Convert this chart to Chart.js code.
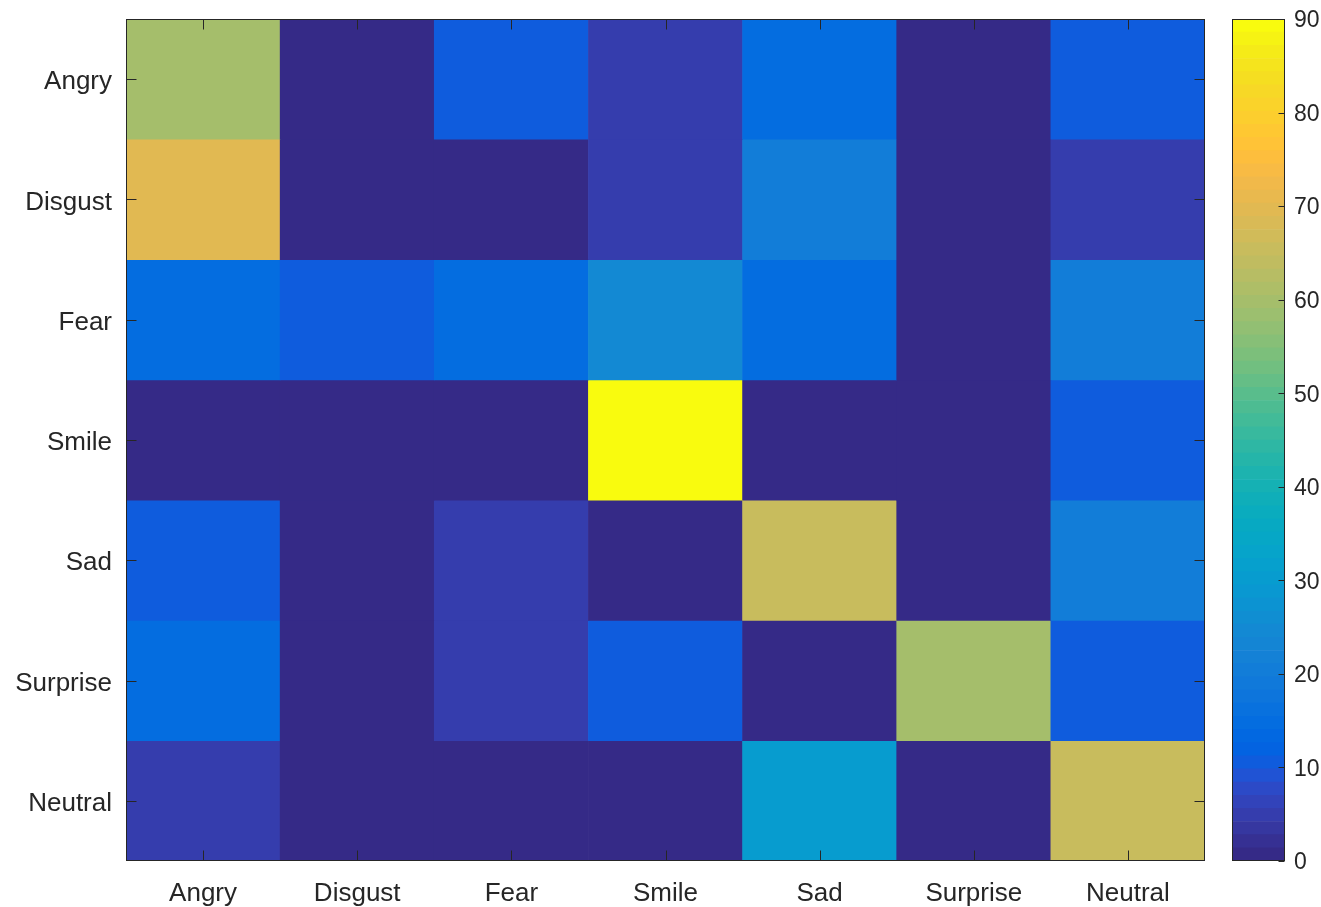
<!DOCTYPE html>
<html>
<head>
<meta charset="utf-8">
<title>Confusion matrix</title>
<script src="https://cdn.jsdelivr.net/npm/chart.js@4.4.1/dist/chart.umd.min.js"></script>
<style>
  html, body { margin: 0; padding: 0; background: #ffffff; }
  #wrap { position: relative; width: 1321px; height: 907px; overflow: hidden; }
  #matrix { position: absolute; left: 0; top: 0; }
  #cbar { position: absolute; left: 1220px; top: 0; }
</style>
</head>
<body>
<div id="wrap">
  <canvas id="matrix" width="1220" height="907"></canvas>
  <canvas id="cbar" width="101" height="907"></canvas>
</div>
<script>
// Class names: rows are the true class, columns the predicted class
const rowLabels = ['Angry', 'Disgust', 'Fear', 'Smile', 'Sad', 'Surprise', 'Neutral'];
const colLabels = ['Angry', 'Disgust', 'Fear', 'Smile', 'Sad', 'Surprise', 'Neutral'];

// Recognition rates (%) per true class
const angryRow    = [60, 0, 10, 5, 15, 0, 10];
const disgustRow  = [70, 0, 0, 5, 20, 0, 5];
const fearRow     = [15, 10, 15, 25, 15, 0, 20];
const smileRow    = [0, 0, 0, 90, 0, 0, 10];
const sadRow      = [10, 0, 5, 0, 65, 0, 20];
const surpriseRow = [15, 0, 5, 10, 0, 60, 10];
const neutralRow  = [5, 0, 0, 0, 30, 0, 65];
const matrixRows = [angryRow, disgustRow, fearRow, smileRow, sadRow, surpriseRow, neutralRow];

// Colour limits and colour bar tick labels
const colorMin = 0;
const colorMax = 90;
const colorbarTicks = [0, 10, 20, 30, 40, 50, 60, 70, 80, 90];

// parula, 64 levels
const parula = [
  [0.2081,0.1663,0.5292],[0.2116,0.1898,0.5777],[0.2123,0.2138,0.6270],[0.2081,0.2386,0.6771],
  [0.1959,0.2645,0.7279],[0.1707,0.2919,0.7792],[0.1253,0.3242,0.8303],[0.0591,0.3598,0.8683],
  [0.0117,0.3875,0.8820],[0.0060,0.4086,0.8828],[0.0165,0.4266,0.8786],[0.0329,0.4430,0.8720],
  [0.0498,0.4586,0.8641],[0.0629,0.4737,0.8554],[0.0723,0.4887,0.8467],[0.0779,0.5040,0.8384],
  [0.0793,0.5200,0.8312],[0.0749,0.5375,0.8263],[0.0641,0.5570,0.8240],[0.0488,0.5772,0.8228],
  [0.0343,0.5966,0.8199],[0.0265,0.6137,0.8135],[0.0239,0.6287,0.8038],[0.0231,0.6418,0.7913],
  [0.0228,0.6535,0.7768],[0.0267,0.6642,0.7607],[0.0384,0.6743,0.7436],[0.0590,0.6838,0.7254],
  [0.0843,0.6928,0.7062],[0.1133,0.7015,0.6859],[0.1453,0.7098,0.6646],[0.1801,0.7177,0.6424],
  [0.2178,0.7250,0.6193],[0.2586,0.7317,0.5954],[0.3022,0.7376,0.5712],[0.3482,0.7424,0.5473],
  [0.3953,0.7459,0.5244],[0.4420,0.7481,0.5033],[0.4871,0.7491,0.4840],[0.5300,0.7491,0.4661],
  [0.5709,0.7485,0.4494],[0.6099,0.7473,0.4337],[0.6473,0.7456,0.4188],[0.6834,0.7435,0.4044],
  [0.7184,0.7411,0.3905],[0.7525,0.7384,0.3768],[0.7858,0.7356,0.3633],[0.8185,0.7327,0.3498],
  [0.8507,0.7299,0.3360],[0.8824,0.7274,0.3217],[0.9139,0.7258,0.3063],[0.9450,0.7261,0.2886],
  [0.9739,0.7314,0.2666],[0.9938,0.7455,0.2403],[0.9990,0.7653,0.2164],[0.9955,0.7861,0.1967],
  [0.9880,0.8066,0.1794],[0.9789,0.8271,0.1633],[0.9697,0.8481,0.1475],[0.9626,0.8705,0.1309],
  [0.9589,0.8949,0.1132],[0.9598,0.9218,0.0948],[0.9661,0.9514,0.0755],[0.9763,0.9831,0.0538]
];

const toCss = c => 'rgb(' + c.map(v => Math.round(v * 255)).join(',') + ')';

// Scaled colour lookup: value -> colormap entry
function colorFor(v) {
  const m = parula.length;
  let idx = Math.floor((v - colorMin) / (colorMax - colorMin) * m);
  idx = Math.max(0, Math.min(m - 1, idx));
  return toCss(parula[idx]);
}

const FONT = '"Liberation Sans", Arial, Helvetica, sans-serif';
const AXIS_COLOR = '#262626';

// Draws the axes box and the inward tick marks on the requested sides
const boxTicks = {
  id: 'boxTicks',
  afterDraw(chart, args, opts) {
    const { ctx, chartArea: a, scales } = chart;
    const L = Math.round(a.left) + 0.5, R = Math.round(a.right) - 0.5;
    const T = Math.round(a.top) + 0.5, B = Math.round(a.bottom) - 0.5;
    const len = opts.length;
    ctx.save();
    ctx.strokeStyle = opts.color;
    ctx.lineWidth = 1;
    ctx.beginPath();
    const sides = opts.sides;
    if (sides.includes('bottom') || sides.includes('top')) {
      const xs = scales.x;
      xs.ticks.forEach((t, i) => {
        const px = Math.round(xs.getPixelForTick(i)) + 0.5;
        if (sides.includes('bottom')) { ctx.moveTo(px, B); ctx.lineTo(px, B - len); }
        if (sides.includes('top')) { ctx.moveTo(px, T); ctx.lineTo(px, T + len); }
      });
    }
    if (sides.includes('left') || sides.includes('right')) {
      const ys = scales.y;
      ys.ticks.forEach((t, i) => {
        const py = Math.round(ys.getPixelForTick(i)) + 0.5;
        if (sides.includes('left')) { ctx.moveTo(L, py); ctx.lineTo(L + len, py); }
        if (sides.includes('right')) { ctx.moveTo(R, py); ctx.lineTo(R - len, py); }
      });
    }
    ctx.stroke();
    ctx.strokeStyle = opts.frameColor;
    ctx.strokeRect(L, T, R - L, B - T);
    ctx.restore();
  }
};

// Keeps label overhang from pushing the plot area inward
function noOverhang(scale) {
  scale.paddingTop = 0;
  scale.paddingBottom = 0;
  scale.paddingLeft = 0;
  scale.paddingRight = 0;
}

// Nudges a scale's tick labels vertically so the glyphs sit centred on their ticks
function nudgeLabels(scale, dy) {
  if (scale.$nudged) return;
  const drawLabels = scale.drawLabels;
  scale.drawLabels = function (area) {
    this.ctx.save();
    this.ctx.translate(0, dy);
    drawLabels.call(this, area);
    this.ctx.restore();
  };
  scale.$nudged = true;
}

// One stacked dataset per true class; each bar segment is one matrix cell of height 1
const matrixDatasets = matrixRows.map((row, r) => ({
  label: rowLabels[r],
  data: row.map(() => 1),
  backgroundColor: row.map(v => colorFor(v)),
  borderWidth: 0,
  barPercentage: 1.0,
  categoryPercentage: 1.0
}));

new Chart(document.getElementById('matrix'), {
  type: 'bar',
  data: { labels: colLabels, datasets: matrixDatasets },
  plugins: [boxTicks],
  options: {
    responsive: false,
    animation: false,
    devicePixelRatio: 1,
    layout: { padding: { top: 19, right: 15, bottom: 0, left: 0 } },
    plugins: {
      legend: { display: false },
      tooltip: { enabled: false },
      boxTicks: { sides: ['bottom', 'top', 'left', 'right'], length: 10, color: AXIS_COLOR, frameColor: AXIS_COLOR }
    },
    scales: {
      x: {
        stacked: true,
        grid: { display: false, drawTicks: false },
        border: { display: false },
        ticks: {
          color: AXIS_COLOR,
          font: { family: FONT, size: 26 },
          padding: 17,
          maxRotation: 0,
          autoSkip: false
        },
        afterFit(scale) { scale.height = 46; noOverhang(scale); }
      },
      y: {
        stacked: true,
        reverse: true,
        min: 0,
        max: rowLabels.length,
        grid: { display: false, drawTicks: false },
        border: { display: false },
        afterBuildTicks(scale) {
          scale.ticks = rowLabels.map((_, i) => ({ value: i + 0.5 }));
        },
        ticks: {
          color: AXIS_COLOR,
          font: { family: FONT, size: 26 },
          padding: 14,
          autoSkip: false,
          callback: (value, index) => rowLabels[index]
        },
        afterFit(scale) { scale.width = 126; noOverhang(scale); nudgeLabels(scale, 3); }
      }
    }
  }
});

// Colour bar: one floating segment per colormap level
const levelCount = parula.length;
const levelStep = (colorMax - colorMin) / levelCount;
const barDatasets = parula.map((c, k) => ({
  data: [[colorMin + k * levelStep, colorMin + (k + 1) * levelStep]],
  backgroundColor: toCss(c),
  borderWidth: 0,
  barPercentage: 1.0,
  categoryPercentage: 1.0,
  grouped: false
}));

new Chart(document.getElementById('cbar'), {
  type: 'bar',
  data: { labels: [''], datasets: barDatasets },
  plugins: [boxTicks],
  options: {
    responsive: false,
    animation: false,
    devicePixelRatio: 1,
    layout: { padding: { top: 19, right: 0, bottom: 46, left: 12 } },
    plugins: {
      legend: { display: false },
      tooltip: { enabled: false },
      boxTicks: { sides: ['right'], length: 6, color: AXIS_COLOR, frameColor: AXIS_COLOR }
    },
    scales: {
      x: { display: false },
      y: {
        position: 'right',
        min: colorMin,
        max: colorMax,
        grid: { display: false, drawTicks: false },
        border: { display: false },
        afterBuildTicks(scale) {
          scale.ticks = colorbarTicks.map(v => ({ value: v }));
        },
        ticks: {
          color: AXIS_COLOR,
          font: { family: FONT, size: 23 },
          padding: 9,
          autoSkip: false
        },
        afterFit(scale) { scale.width = 36; noOverhang(scale); nudgeLabels(scale, 2); }
      }
    }
  }
});
</script>
</body>
</html>
